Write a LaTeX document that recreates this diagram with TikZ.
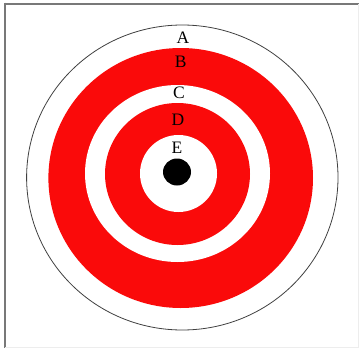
\documentclass[tikz,border=0pt]{standalone}
\usepackage{fontspec}
\setmainfont{Liberation Serif}
\definecolor{tred}{RGB}{250,10,10}
\definecolor{framegray}{RGB}{120,120,120}
\begin{document}
\begin{tikzpicture}[x=1pt,y=-1pt,
  lbl/.style={inner sep=0pt,font=\fontsize{17.5}{17.5}\selectfont},
  ring/.style={draw=black!60,line width=0.5pt}]
\useasboundingbox (0,0) rectangle (359,348);
\fill[white] (0,0) rectangle (359,348);
% frame
\draw[framegray,line width=2pt] (4,3.5) -- (359,3.5);
\draw[framegray,line width=2pt] (5,2.5) -- (5,348);
\draw[black!7,line width=1pt] (358,4) -- (358,348);
\draw[black!7,line width=1pt] (5,347.5) -- (358,347.5);
% rings
\draw[fill=white,draw=black!75,line width=0.8pt] (182.3,177.5) ellipse [x radius=155.7, y radius=152.5];
\fill[tred] (180.7,178) ellipse [x radius=132.3, y radius=130];
\fill[white] (177.5,173.5) ellipse [x radius=92.5, y radius=88.5];
\fill[tred] (177.5,174) ellipse [x radius=72.5, y radius=71];
\fill[white] (178.5,173.5) ellipse [x radius=38.5, y radius=38.5];
\fill[black] (177,172) ellipse [x radius=14, y radius=13.5];
% labels
\node[lbl] (a) at (183,37.8) {A};
\node[lbl] (b) at (180.7,61.7) {B};
\node[lbl] (c) at (179,93) {C};
\node[lbl] (d) at (178,119.5) {D};
\node[lbl] (e) at (177,147.5) {E};
\end{tikzpicture}
\end{document}
